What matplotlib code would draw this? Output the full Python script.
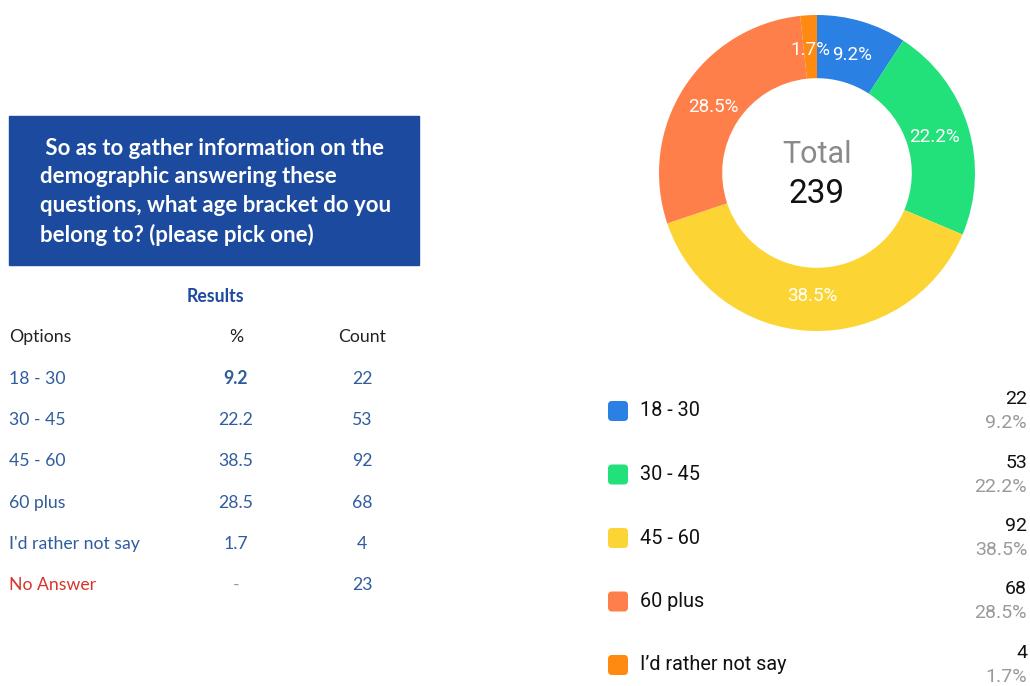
import matplotlib.pyplot as plt
from matplotlib.patches import FancyBboxPatch, Rectangle

options = ["18 - 30", "30 - 45", "45 - 60", "60 plus", "I'd rather not say"]
legend_labels = ["18 - 30", "30 - 45", "45 - 60", "60 plus", "I\u2019d rather not say"]
counts = [22, 53, 92, 68, 4]
percents = [9.2, 22.2, 38.5, 28.5, 1.7]
no_answer_count = 23
total = 239
question = (" So as to gather information on the\ndemographic answering these\n"
            "questions, what age bracket do you\nbelong to? (please pick one)")

colors = ["#2B80E3", "#22E07A", "#FCD535", "#FF7F4A", "#FF8A12"]
navy = "#1B4A9E"
tbl_blue = "#2F5C9C"

W, H = 1030, 686
fig = plt.figure(figsize=(W / 100, H / 100), dpi=100)

# canvas in pixel coords
ax = fig.add_axes([0, 0, 1, 1])
ax.set_xlim(0, W)
ax.set_ylim(H, 0)
ax.axis("off")

# question box
ax.add_patch(Rectangle((9, 116), 410, 149, color=navy, zorder=1))
ax.text(40, 192, question, color="white", fontsize=16, fontweight="bold",
        family="Lato", va="center", ha="left", linespacing=1.45, zorder=2)

# results table
tfont = "Lato"
fs = 12.7
ax.text(215, 296, "Results", color=navy, fontsize=fs, fontweight="bold",
        family=tfont, ha="center", va="center")
ax.text(9, 337, "Options", color="#222222", fontsize=fs, family=tfont, va="center")
ax.text(236, 337, "%", color="#222222", fontsize=fs, family=tfont, va="center", ha="center")
ax.text(362, 337, "Count", color="#222222", fontsize=fs, family=tfont, va="center", ha="center")
row_y = 379
for i, (opt, p, c) in enumerate(zip(options, percents, counts)):
    y = row_y + i * 41.2
    ax.text(9, y, opt, color=tbl_blue, fontsize=fs, family=tfont, va="center")
    ax.text(236, y, f"{p}", color=tbl_blue, fontsize=fs, family=tfont, va="center",
            ha="center", fontweight="bold" if i == 0 else "normal")
    ax.text(362, y, str(c), color=tbl_blue, fontsize=fs, family=tfont, va="center", ha="center")
y = row_y + len(options) * 41.2
ax.text(9, y, "No Answer", color="#D9342B", fontsize=fs, family=tfont, va="center")
ax.text(236, y, "-", color="#999999", fontsize=fs, family=tfont, va="center", ha="center")
ax.text(362, y, str(no_answer_count), color=tbl_blue, fontsize=fs, family=tfont,
        va="center", ha="center")

# legend on the right
for i, (lab, c, p) in enumerate(zip(legend_labels, counts, percents)):
    y = 411 + i * 63.5
    ax.add_patch(FancyBboxPatch((608, y - 10), 20, 20, boxstyle="round,pad=0,rounding_size=4",
                                color=colors[i], lw=0))
    ax.text(640, y, lab, color="#111111", fontsize=14.3, family="Roboto", va="center")
    ax.text(1027, y - 12, str(c), color="#111111", fontsize=14, family="Roboto",
            va="center", ha="right")
    ax.text(1027, y + 12, f"{p}%", color="#9A9A9A", fontsize=14, family="Roboto",
            va="center", ha="right")

# donut
cx, cy, r = 817, 173, 158
pad = 162
pax = fig.add_axes([(cx - pad) / W, (H - cy - pad) / H, 2 * pad / W, 2 * pad / H])
wedges, texts, autotexts = pax.pie(
    percents, colors=colors, startangle=90, counterclock=False,
    wedgeprops=dict(width=0.4, linewidth=0), autopct="%.1f%%", pctdistance=0.78,
    textprops=dict(color="white", fontsize=13.5, family="Roboto"))
pax.set_xlim(-pad / r, pad / r)
pax.set_ylim(-pad / r, pad / r)
pax.set_aspect("equal")
pax.axis("off")
pax.text(0, 0.12, "Total", color="#8A8A8A", fontsize=22, family="Roboto",
         ha="center", va="center")
pax.text(0, -0.13, str(total), color="#111111", fontsize=24, family="Roboto",
         ha="center", va="center")

fig.savefig("out.png", dpi=100, facecolor="white")
